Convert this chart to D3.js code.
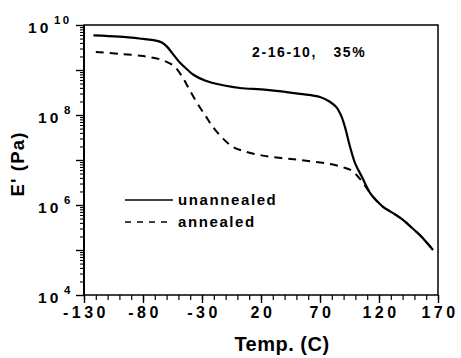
<!DOCTYPE html>
<html>
<head>
<meta charset="utf-8">
<script src="https://cdn.jsdelivr.net/npm/d3@7"></script>
<style>
  html, body { margin: 0; padding: 0; background: #fff; }
  svg { display: block; }
  text { font-family: "Liberation Sans", Arial, Helvetica, sans-serif; font-weight: bold; fill: #000; }
</style>
</head>
<body>
<svg id="chart" width="461" height="358"></svg>
<script>
// Storage modulus vs temperature, sample 2-16-10 (35%)
const unannealedT = [-122, -100, -80, -70, -64, -59.7, -55.4, -48.6, -42, -37.6, -28, -20.7, -10, 2.2, 25, 53, 70, 78, 84, 88, 91.2, 95.4, 99.7, 105.6, 112.4, 117, 123.4, 131.9, 140.3, 148, 154.7, 160, 165.8];
const unannealedE = [9.77, 9.74, 9.69, 9.66, 9.61, 9.52, 9.38, 9.16, 9.0, 8.9, 8.77, 8.71, 8.65, 8.6, 8.56, 8.47, 8.4, 8.3, 8.17, 7.98, 7.73, 7.3, 6.93, 6.62, 6.27, 6.12, 5.96, 5.82, 5.67, 5.49, 5.33, 5.18, 5.0];

const annealedT = [-120, -100, -80, -66, -59.9, -52.9, -46.1, -41, -34.2, -27, -20.7, -12, -3.7, 5, 19.2, 35, 53, 78.5, 89.5, 97.1, 103.9, 112.4, 117, 123.4, 131.9, 140.3, 148, 154.7, 160, 165.8];
const annealedE = [9.4, 9.36, 9.31, 9.24, 9.18, 9.07, 8.82, 8.58, 8.27, 7.98, 7.73, 7.47, 7.29, 7.2, 7.11, 7.05, 7.0, 6.91, 6.84, 6.76, 6.58, 6.27, 6.12, 5.96, 5.82, 5.67, 5.49, 5.33, 5.18, 5.0];

const xTickValues = [-130, -80, -30, 20, 70, 120, 170];
const yTickExponents = [4, 6, 8, 10];
const legendLabels = ["unannealed", "annealed"];
const sampleLabel = "2-16-10,   35%";

const svg = d3.select("#chart");
const m = { left: 84, right: 438, top: 25, bottom: 295 };

const x = d3.scaleLinear().domain([-130, 170]).range([m.left, m.right]);
const y = d3.scaleLog().domain([1e4, 1e10]).range([m.bottom, m.top]);

// frame
svg.append("rect")
  .attr("x", m.left).attr("y", m.top)
  .attr("width", m.right - m.left).attr("height", m.bottom - m.top)
  .attr("fill", "none").attr("stroke", "#000").attr("stroke-width", 1.5);
svg.append("line")
  .attr("x1", m.left).attr("x2", m.left).attr("y1", m.top).attr("y2", m.bottom)
  .attr("stroke", "#000").attr("stroke-width", 2);

// x axis: minor every 10, major every 50
const xMinor = d3.range(-130, 171, 10);
const gx = svg.append("g").attr("transform", `translate(0,${m.bottom})`)
  .call(d3.axisBottom(x).tickValues(xMinor).tickSize(5).tickFormat(""));
gx.select(".domain").remove();
gx.selectAll("line").attr("stroke-width", 1.2);
const gxMajor = svg.append("g").attr("transform", `translate(0,${m.bottom})`)
  .call(d3.axisBottom(x).tickValues(xTickValues).tickSize(8).tickFormat(""));
gxMajor.select(".domain").remove();
gxMajor.selectAll("line").attr("stroke-width", 1.4);

svg.append("g").selectAll("text").data(xTickValues).join("text")
  .attr("x", d => x(d) + 2)
  .attr("y", 318)
  .attr("text-anchor", "middle")
  .attr("font-size", 16)
  .attr("letter-spacing", 3.5)
  .text(d => String(d));

// y axis: log minor ticks and decade ticks
const yMinor = y.ticks().filter(v => {
  const e = Math.log10(v);
  return Math.abs(e - Math.round(e)) > 1e-6;
});
const gyMinor = svg.append("g").attr("transform", `translate(${m.left},0)`)
  .call(d3.axisLeft(y).tickValues(yMinor).tickSize(4).tickFormat(""));
gyMinor.select(".domain").remove();
gyMinor.selectAll("line").attr("stroke-width", 1.1);
const decades = d3.range(4, 11).map(e => Math.pow(10, e));
const gyMajor = svg.append("g").attr("transform", `translate(${m.left},0)`)
  .call(d3.axisLeft(y).tickValues(decades).tickSize(8).tickFormat(""));
gyMajor.select(".domain").remove();
gyMajor.selectAll("line").attr("stroke-width", 1.4);

// decade labels: base "10" with the exponent raised beside it
const yLab = svg.append("g").selectAll("g").data(yTickExponents).join("g")
  .attr("transform", d => `translate(${d >= 10 ? 28 : 38},${y(Math.pow(10, d)) + 8})`);
yLab.append("text")
  .attr("font-size", 15.5)
  .text("1\u20090");
yLab.append("text")
  .attr("x", 26).attr("y", -9)
  .attr("font-size", 11.5)
  .text(d => d >= 10 ? "1\u20090" : String(d));

// axis titles
svg.append("text")
  .attr("transform", "translate(24,164) rotate(-90)")
  .attr("text-anchor", "middle")
  .attr("font-size", 18.5)
  .attr("letter-spacing", 1.2)
  .text("E' (Pa)");

svg.append("text")
  .attr("x", 282).attr("y", 351)
  .attr("text-anchor", "middle")
  .attr("font-size", 20)
  .attr("letter-spacing", 0.5)
  .text("Temp. (C)");

// curves
const line = d3.line()
  .x(d => x(d[0]))
  .y(d => y(Math.pow(10, d[1])))
  .curve(d3.curveCatmullRom.alpha(0.5));

const unannealed = unannealedT.map((t, i) => [t, unannealedE[i]]);
const annealed = annealedT.map((t, i) => [t, annealedE[i]]);

svg.append("path").datum(annealed)
  .attr("d", line)
  .attr("fill", "none").attr("stroke", "#000")
  .attr("stroke-width", 2).attr("stroke-dasharray", "8,6");

svg.append("path").datum(unannealed)
  .attr("d", line)
  .attr("fill", "none").attr("stroke", "#000")
  .attr("stroke-width", 2.2);

// sample annotation
svg.append("text")
  .attr("x", 252).attr("y", 57)
  .attr("font-size", 14)
  .attr("letter-spacing", 1.6)
  .style("white-space", "pre")
  .text(sampleLabel);

// legend
const legend = svg.append("g");
legendLabels.forEach((lab, i) => {
  const ly = 200 + i * 22;
  legend.append("line")
    .attr("x1", 125).attr("x2", 173)
    .attr("y1", ly).attr("y2", ly)
    .attr("stroke", "#000").attr("stroke-width", 1.6)
    .attr("stroke-dasharray", i === 0 ? null : "6,6");
  legend.append("text")
    .attr("x", 178).attr("y", ly + 5)
    .attr("font-size", 15)
    .attr("letter-spacing", 1.6)
    .text(lab);
});
</script>
</body>
</html>
